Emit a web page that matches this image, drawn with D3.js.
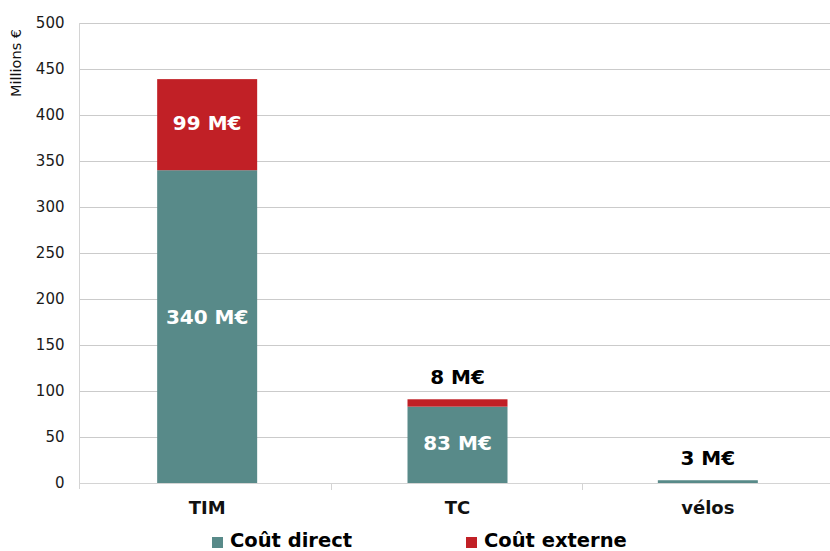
<!DOCTYPE html>
<html>
<head>
<meta charset="utf-8">
<script src="https://cdn.jsdelivr.net/npm/d3@7"></script>
<style>
  body { margin: 0; background: #fff; }
  text { font-family: "DejaVu Sans", Verdana, sans-serif; }
</style>
</head>
<body>
<script>
// data
const categories = ["TIM", "TC", "vélos"];
const directCost = [340, 83, 3];
const externalCost = [99, 8, 0];
const directLabels = ["340 M€", "83 M€", "3 M€"];
const externalLabels = ["99 M€", "8 M€", ""];
const seriesNames = ["Coût direct", "Coût externe"];
const yTicks = [0, 50, 100, 150, 200, 250, 300, 350, 400, 450, 500];

const colors = ["#588a89", "#c12026"];

const width = 830, height = 551;
const margin = {top: 23, right: 0, bottom: 68, left: 80};

const svg = d3.select("body")
    .append("svg")
    .attr("width", width)
    .attr("height", height);

const x = d3.scaleBand()
    .domain(categories)
    .range([margin.left + 2, width + 3])
    .paddingInner(0)
    .paddingOuter(0);

const y = d3.scaleLinear()
    .domain([0, 500])
    .range([height - margin.bottom, margin.top]);

// gridlines
svg.append("g")
    .selectAll("line")
    .data(yTicks)
    .enter()
    .append("line")
    .attr("x1", margin.left)
    .attr("x2", width)
    .attr("y1", d => Math.round(y(d)) + 0.5)
    .attr("y2", d => Math.round(y(d)) + 0.5)
    .attr("stroke", d => d === 0 ? "#d4d4d4" : "#cbcbcb")
    .attr("stroke-width", 1);

// y axis
const yAxis = svg.append("g")
    .attr("transform", `translate(${margin.left - 0.5},0)`)
    .call(d3.axisLeft(y).tickValues(yTicks).tickSize(0).tickPadding(15));
yAxis.select(".domain").remove();
yAxis.selectAll("text")
    .attr("font-size", 15)
    .attr("fill", "#1a1a1a")
    .style("font-family", "DejaVu Sans, Verdana, sans-serif");

svg.append("line")
    .attr("x1", margin.left - 0.5).attr("x2", margin.left - 0.5)
    .attr("y1", y(500)).attr("y2", y(0) + 6)
    .attr("stroke", "#d4d4d4");

// category ticks
svg.append("g")
    .selectAll("line")
    .data(categories.slice(1))
    .enter()
    .append("line")
    .attr("x1", d => Math.round(x(d)) - 0.5)
    .attr("x2", d => Math.round(x(d)) - 0.5)
    .attr("y1", y(0))
    .attr("y2", y(0) + 7)
    .attr("stroke", "#d4d4d4");

// x labels
svg.append("g")
    .selectAll("text")
    .data(categories)
    .enter()
    .append("text")
    .attr("x", d => x(d) + x.bandwidth() / 2)
    .attr("y", y(0) + 31)
    .attr("text-anchor", "middle")
    .attr("font-size", 18)
    .attr("font-weight", "bold")
    .attr("fill", "#111")
    .text(d => d);

// y title
svg.append("text")
    .attr("transform", `translate(21,63) rotate(-90)`)
    .attr("text-anchor", "middle")
    .attr("font-size", 14.5)
    .attr("fill", "#111")
    .text("Millions €");

// stacked bars
const table = categories.map((c, i) => ({cat: c, direct: directCost[i], external: externalCost[i]}));
const stacked = d3.stack().keys(["direct", "external"])(table);

const barW = 100;
svg.append("g")
    .selectAll("g")
    .data(stacked)
    .enter()
    .append("g")
    .attr("fill", (d, i) => colors[i])
    .selectAll("rect")
    .data(d => d.filter(v => v[1] > v[0]))
    .enter()
    .append("rect")
    .attr("x", d => x(d.data.cat) + x.bandwidth() / 2 - barW / 2)
    .attr("width", barW)
    .attr("y", d => y(d[1]))
    .attr("height", d => y(d[0]) - y(d[1]));

// value labels: inside the segment if it is tall enough, else above the bar
const labelData = [];
categories.forEach((c, i) => {
    const s0 = stacked[0][i], s1 = stacked[1][i];
    [[s0, directLabels[i]], [s1, externalLabels[i]]].forEach(([s, txt]) => {
        if (!txt) return;
        const segH = y(s[0]) - y(s[1]);
        if (segH > 30) {
            labelData.push({cat: c, text: txt, yv: (s[0] + s[1]) / 2 + (i === 0 && s === s0 ? 10 : 2), inside: true});
        } else {
            labelData.push({cat: c, text: txt, yv: s1[1], inside: false});
        }
    });
});

svg.append("g")
    .selectAll("text")
    .data(labelData)
    .enter()
    .append("text")
    .attr("x", d => x(d.cat) + x.bandwidth() / 2)
    .attr("y", d => d.inside ? y(d.yv) + 7 : y(d.yv) - 15)
    .attr("text-anchor", "middle")
    .attr("font-size", 20)
    .attr("font-weight", "bold")
    .attr("fill", d => d.inside ? "#ffffff" : "#000000")
    .text(d => d.text);

// legend
const legendX = [212, 466];
const legend = svg.append("g")
    .selectAll("g")
    .data(seriesNames)
    .enter()
    .append("g")
    .attr("transform", (d, i) => `translate(${legendX[i]},537)`);
legend.append("rect")
    .attr("width", 11)
    .attr("height", 11)
    .attr("fill", (d, i) => colors[i]);
legend.append("text")
    .attr("x", 18)
    .attr("y", 10)
    .attr("font-size", 19.5)
    .attr("font-weight", "bold")
    .attr("fill", "#000")
    .text(d => d);
</script>
</body>
</html>
